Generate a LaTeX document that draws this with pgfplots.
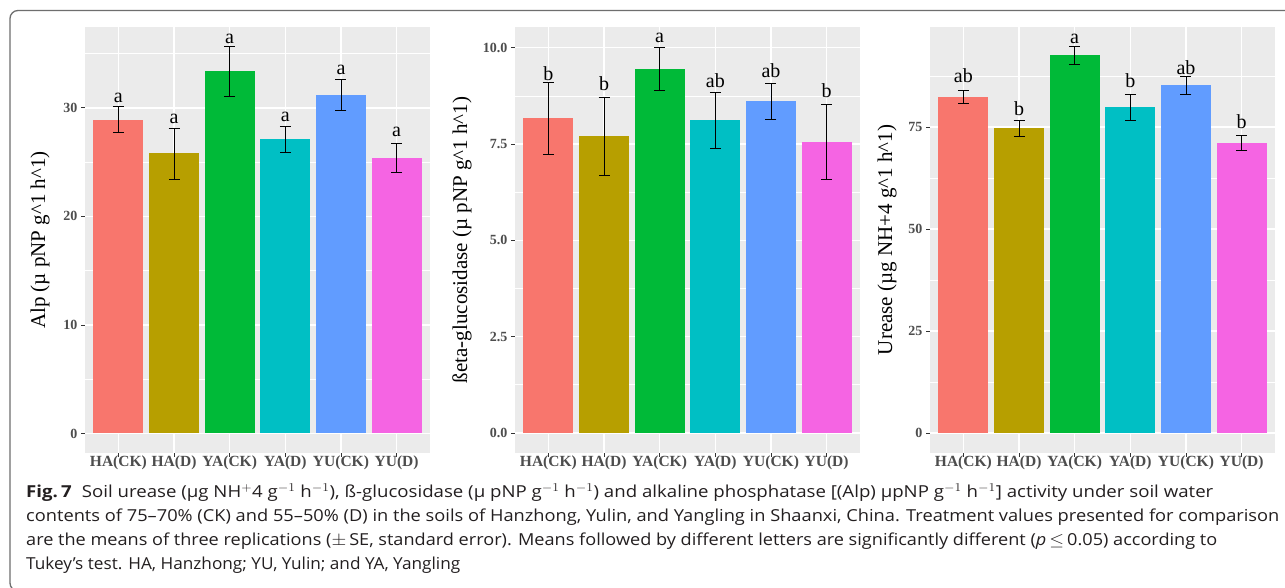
\documentclass[border=0pt]{standalone}
\usepackage{fontspec}
\setmainfont{Open Sans}
\newfontfamily\serif{Liberation Serif}
\usepackage{pgfplots}
\pgfplotsset{compat=1.18}
\definecolor{c1}{HTML}{F8766D}
\definecolor{c2}{HTML}{B79F00}
\definecolor{c3}{HTML}{00BA38}
\definecolor{c4}{HTML}{00BFC4}
\definecolor{c5}{HTML}{619CFF}
\definecolor{c6}{HTML}{F564E3}
\definecolor{panelbg}{HTML}{EBEBEB}
\definecolor{gtxt}{HTML}{4D4D4D}
\definecolor{gtick}{HTML}{333333}
\definecolor{framecol}{HTML}{6E6E6E}
\definecolor{captxt}{HTML}{231F20}
\tikzset{lett/.style={font=\fontsize{20}{20}\selectfont\serif, anchor=base, inner sep=0pt}}
\pgfplotsset{
  gg/.style={
    scale only axis, width=345pt, height=426pt,
    anchor=south west,
    xmin=-0.6, xmax=5.6,
    axis background/.style={fill=panelbg},
    axis line style={draw=none},
    xtick={0,1,2,3,4,5},
    xticklabels={HA(CK),HA(D),YA(CK),YA(D),YU(CK),YU(D)},
    tick pos=left,
    tick align=outside, major tick length=4pt, minor tick length=0pt,
    tick style={gtick, line width=0.8pt},
    grid=both,
    major grid style={white, line width=1.4pt},
    minor grid style={white, line width=0.7pt},
    ybar, bar width=0.9, bar shift=0pt,
    error bars/y dir=both, error bars/y explicit,
    error bars/error bar style={draw=black, line width=0.8pt},
    error bars/error mark options={draw=black, rotate=90, mark size=5.5pt, line width=0.8pt},
    /pgf/number format/assume math mode=true,
    xticklabel style={font=\fontsize{15.5}{16}\selectfont\serif\bfseries, text=gtxt, inner sep=0pt, yshift=1pt},
    yticklabel style={font=\fontsize{14}{14}\selectfont\serif\bfseries, text=gtxt},
    clip=false,
  },
}
\begin{document}
\begin{tikzpicture}
\useasboundingbox (0,0) rectangle (1285pt,588pt);
\clip (0,0) rectangle (1285pt,588pt);
\fill[white] (0,0) rectangle (1285pt,588pt);
\draw[framecol, line width=1.3pt, rounded corners=8pt] (10pt,-3pt) rectangle (1300pt,577.5pt);

% Panel 1: Alp
\begin{axis}[gg, at={(85pt,135pt)},
  ymin=-1.8, ymax=37.45, ytick={0,10,20,30}, minor ytick={5,15,25,35},
  ylabel={Alp (µ pNP g\textasciicircum 1 h\textasciicircum 1)},
  every axis y label/.style={at={(axis description cs:-0.1304,0.5)}, rotate=90, anchor=center, font=\fontsize{21}{21}\selectfont\serif}]
\addplot[fill=c1, draw=none] coordinates {(0,28.9) +- (0,1.2)};
\addplot[fill=c2, draw=none] coordinates {(1,25.8) +- (0,2.35)};
\addplot[fill=c3, draw=none] coordinates {(2,33.4) +- (0,2.3)};
\addplot[fill=c4, draw=none] coordinates {(3,27.1) +- (0,1.2)};
\addplot[fill=c5, draw=none] coordinates {(4,31.2) +- (0,1.4)};
\addplot[fill=c6, draw=none] coordinates {(5,25.4) +- (0,1.37)};
\node[lett] at (axis cs:0,30.53) {a};
\node[lett] at (axis cs:1,28.53) {a};
\node[lett] at (axis cs:2,35.92) {a};
\node[lett] at (axis cs:3,28.77) {a};
\node[lett] at (axis cs:4,33.08) {a};
\node[lett] at (axis cs:5,27.36) {a};
\end{axis}

% Panel 2: beta-glucosidase
\begin{axis}[gg, at={(515pt,135pt)},
  ymin=-0.52, ymax=10.54, ytick={0,2.5,5,7.5,10}, minor ytick={1.25,3.75,6.25,8.75},
  yticklabel style={/pgf/number format/.cd, fixed, fixed zerofill, precision=1},
  ylabel={ßeta-glucosidase (µ pNP g\textasciicircum 1 h\textasciicircum 1)},
  every axis y label/.style={at={(axis description cs:-0.1536,0.5)}, rotate=90, anchor=center, font=\fontsize{21}{21}\selectfont\serif}]
\addplot[fill=c1, draw=none] coordinates {(0,8.17) +- (0,0.94)};
\addplot[fill=c2, draw=none] coordinates {(1,7.70) +- (0,1.02)};
\addplot[fill=c3, draw=none] coordinates {(2,9.46) +- (0,0.56)};
\addplot[fill=c4, draw=none] coordinates {(3,8.12) +- (0,0.72)};
\addplot[fill=c5, draw=none] coordinates {(4,8.61) +- (0,0.46)};
\addplot[fill=c6, draw=none] coordinates {(5,7.56) +- (0,0.97)};
\node[lett] at (axis cs:0,9.16) {b};
\node[lett] at (axis cs:1,8.90) {b};
\node[lett] at (axis cs:2,10.13) {a};
\node[lett] at (axis cs:3,8.97) {ab};
\node[lett] at (axis cs:4,9.23) {ab};
\node[lett] at (axis cs:5,8.72) {b};
\end{axis}

% Panel 3: Urease
\begin{axis}[gg, at={(930pt,135pt)},
  ymin=-4.85, ymax=99.5, ytick={0,25,50,75}, minor ytick={12.5,37.5,62.5,87.5},
  ylabel={Urease (µg NH+4 g\textasciicircum 1 h\textasciicircum 1)},
  every axis y label/.style={at={(axis description cs:-0.1246,0.5)}, rotate=90, anchor=center, font=\fontsize{21}{21}\selectfont\serif}]
\addplot[fill=c1, draw=none] coordinates {(0,82.4) +- (0,1.65)};
\addplot[fill=c2, draw=none] coordinates {(1,74.7) +- (0,2.0)};
\addplot[fill=c3, draw=none] coordinates {(2,92.6) +- (0,2.2)};
\addplot[fill=c4, draw=none] coordinates {(3,79.8) +- (0,3.2)};
\addplot[fill=c5, draw=none] coordinates {(4,85.2) +- (0,2.1)};
\addplot[fill=c6, draw=none] coordinates {(5,71.0) +- (0,1.85)};
\node[lett] at (axis cs:0,86.0) {ab};
\node[lett] at (axis cs:1,77.85) {b};
\node[lett] at (axis cs:2,95.4) {a};
\node[lett] at (axis cs:3,84.8) {b};
\node[lett] at (axis cs:4,87.9) {ab};
\node[lett] at (axis cs:5,74.6) {b};
\end{axis}

% Caption
\begin{scope}[every node/.style={anchor=base west, inner sep=0pt, text=captxt, font=\fontsize{16.5}{16.5}\selectfont}]
\node at (26pt,90pt) {\resizebox{1187pt}{\height}{\textbf{Fig.\,7}\hspace{0.55em}Soil urease (µg NH$^{+}$4 g$^{-1}$ h$^{-1}$), ß-glucosidase (µ pNP g$^{-1}$ h$^{-1}$) and alkaline phosphatase [(Alp) µpNP g$^{-1}$ h$^{-1}$] activity under soil water}};
\node at (26pt,66pt) {\resizebox{1253pt}{\height}{contents of 75–70\% (CK) and 55–50\% (D) in the soils of Hanzhong, Yulin, and Yangling in Shaanxi, China. Treatment values presented for comparison}};
\node at (26pt,42pt) {\resizebox{1191pt}{\height}{are the means of three replications ($\pm$\,SE, standard error). Means followed by different letters are significantly different (\textit{p}\,$\leq$\,0.05) according to}};
\node at (26pt,18pt) {\resizebox{434pt}{\height}{Tukey’s test. HA, Hanzhong; YU, Yulin; and YA, Yangling}};
\end{scope}
\end{tikzpicture}
\end{document}
